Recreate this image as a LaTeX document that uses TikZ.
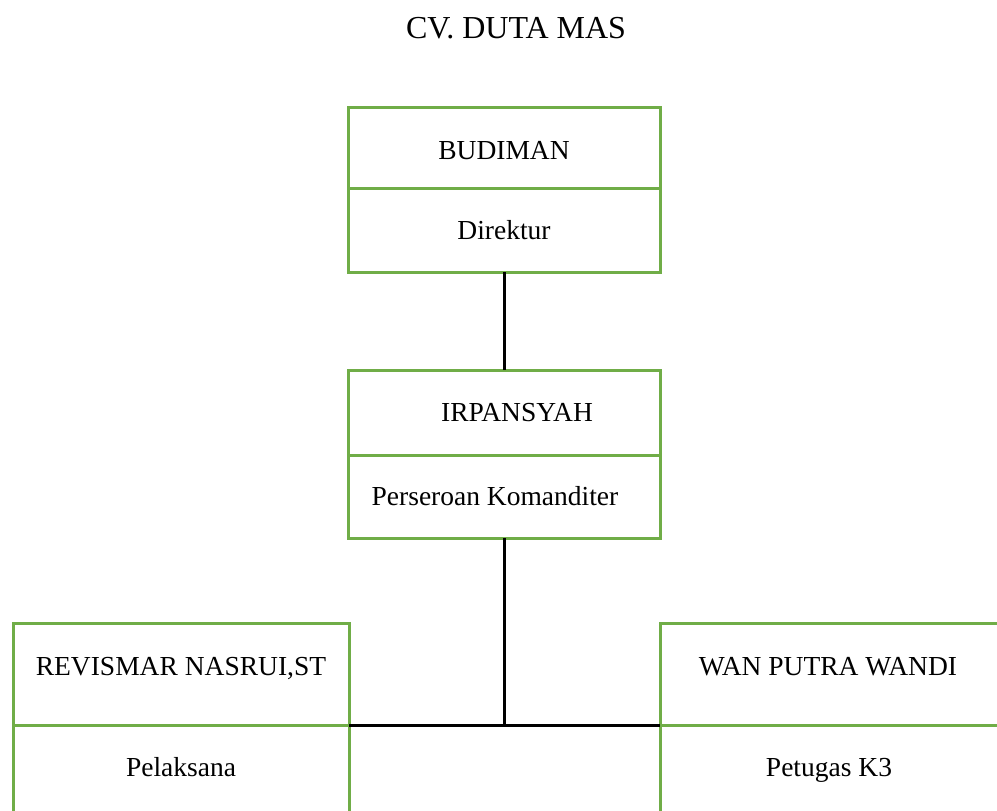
\documentclass[tikz,border=0pt]{standalone}
\usepackage{fontspec}
\setmainfont{Liberation Serif}
\usetikzlibrary{positioning}
\definecolor{boxgreen}{RGB}{112,173,71}

\begin{document}
\begin{tikzpicture}[ x=1pt, y=-1pt
                   , every node/.style={font=\fontsize{27.5}{33}\selectfont}
                   , cell/.style={draw=boxgreen, line width=3pt, inner sep=0pt, outer sep=0pt
                                 , minimum width=312pt, text height=18.5pt, text depth=0pt}
                   , wide/.style={cell, minimum width=336pt}
                   , link/.style={draw=black, line width=3pt}
                   ]

      \useasboundingbox (0,0) rectangle (997,811);
      \clip (0,0) rectangle (997,811);

      \node (title) [font=\fontsize{32}{38}\selectfont] at (516,28) {CV. DUTA MAS};

      \node (budname) [cell, minimum height=81pt] at (504,147.5) {\raisebox{-3pt}{BUDIMAN}};
      \node (budrole) [cell, minimum height=84pt, below=0pt of budname] {Direktur};

      \node (irpname) [cell, minimum height=85pt] at (504,412.5) {\hspace*{26pt}IRPANSYAH};
      \node (irprole) [cell, minimum height=83pt, below=0pt of irpname] {Perseroan Komanditer\hspace*{18pt}};

      \node (revname) [wide, minimum height=102pt] at (181,674) {\raisebox{8pt}{REVISMAR NASRUI,ST}};
      \node (revrole) [wide, minimum height=95pt, below=0pt of revname] {\raisebox{5pt}{Pelaksana}};

      \node (wanname) [wide, minimum height=102pt, minimum width=360pt] at (840,674) {\raisebox{8pt}{WAN PUTRA WANDI\hspace*{24pt}}};
      \node (wanrole) [wide, minimum height=95pt, minimum width=360pt, below=0pt of wanname] {\raisebox{5pt}{Petugas K3\hspace*{22pt}}};

      \draw [link] (budrole.south) -- (irpname.north);
      \coordinate (split) at (irprole.south |- revname.south east);
      \draw [link] (irprole.south) -- (split);
      \draw [link] (revname.south east) -- (wanname.south west);

\end{tikzpicture}
\end{document}
